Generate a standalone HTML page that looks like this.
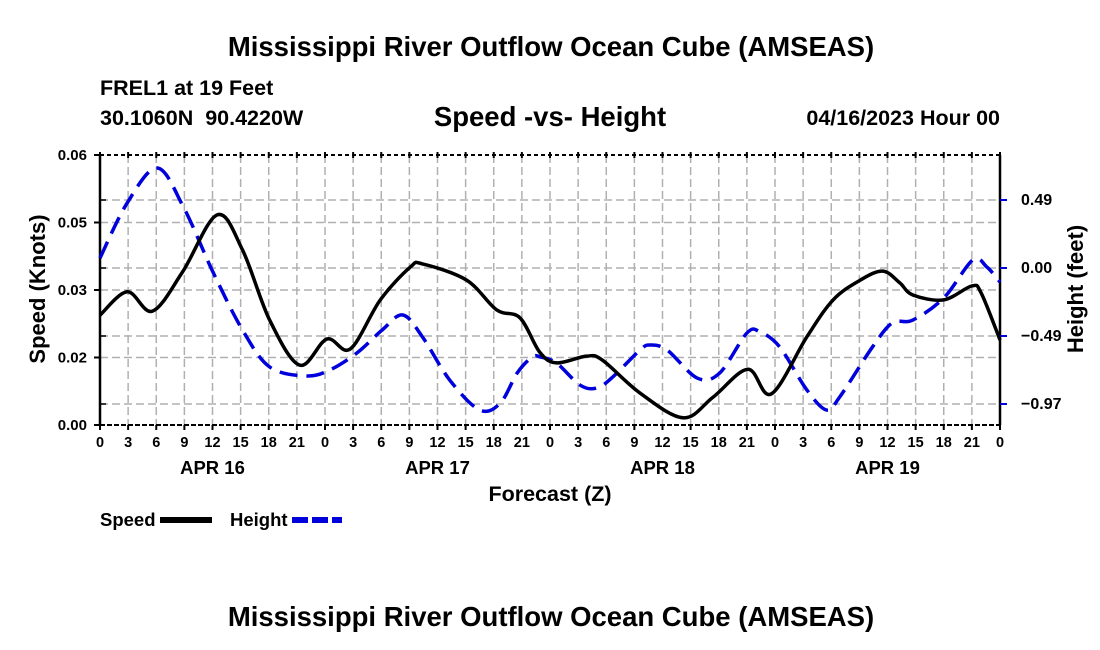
<!DOCTYPE html>
<html><head><meta charset="utf-8"><style>
body{margin:0;background:#fff;}
svg{display:block;font-family:"Liberation Sans",sans-serif;font-weight:bold;}
</style></head><body>
<svg id="c" width="1100" height="650" viewBox="0 0 1100 650">
<rect width="1100" height="650" fill="#fff"/>
<text x="551" y="56" text-anchor="middle" font-size="27.5">Mississippi River Outflow Ocean Cube (AMSEAS)</text>
<text x="100" y="95" font-size="21.5">FREL1 at 19 Feet</text>
<text x="100" y="125" font-size="21.5">30.1060N&#160;&#160;90.4220W</text>
<text x="550" y="126" text-anchor="middle" font-size="27.5">Speed -vs- Height</text>
<text x="1000" y="125" text-anchor="end" font-size="21.5">04/16/2023 Hour 00</text>
<g id="grid"></g>
<g id="axes"></g>
<g id="series"></g>
<text x="550" y="501" text-anchor="middle" font-size="21.5">Forecast (Z)</text>
<text transform="translate(45,289) rotate(-90)" text-anchor="middle" font-size="22">Speed (Knots)</text>
<text transform="translate(1083,289) rotate(-90)" text-anchor="middle" font-size="22">Height (feet)</text>
<g>
<text x="100" y="526" font-size="18.5">Speed</text>
<line x1="160" y1="520" x2="212" y2="520" stroke="#000" stroke-width="6"/>
<text x="230" y="526" font-size="18.5">Height</text>
<line x1="292" y1="520" x2="342" y2="520" stroke="#0000dd" stroke-width="6" stroke-dasharray="16 4"/>
</g>
<text x="551" y="626" text-anchor="middle" font-size="27.5">Mississippi River Outflow Ocean Cube (AMSEAS)</text>
</svg>
<script>
const speedHours=[0,2.9,5.6,8.8,12.5,15.2,18.1,21.3,24.2,26.7,29.9,33.1,34.4,39.1,42.3,44.8,46.9,48.7,51.9,53.6,57.6,62.2,65.4,69.1,71.6,75.4,78.2,81.1,83.5,85.3,86.7,90,93,94,96];
const speedValues=[0.0244,0.0296,0.0253,0.0340,0.0467,0.0389,0.0233,0.0133,0.0191,0.0169,0.0278,0.0351,0.0358,0.0322,0.0256,0.0238,0.0162,0.0138,0.0153,0.0144,0.0071,0.0016,0.0062,0.0124,0.0069,0.0196,0.0278,0.0322,0.0342,0.0316,0.0289,0.0278,0.0309,0.0293,0.0189];
const heightHours=[0,2.9,6.1,8.9,12.1,15.2,18.1,22,24.5,27.4,30.1,32.3,34.4,37.3,40.5,42.7,44.5,46.1,47,48.7,51.2,53,54.7,57.6,58.7,60.5,63.7,66.1,69,70.4,72.5,75.4,77.5,78.9,82.4,84.5,86.7,90,93.1,94.6,96];
const heightValues=[0.071,0.464,0.713,0.435,-0.036,-0.442,-0.706,-0.770,-0.728,-0.606,-0.442,-0.335,-0.492,-0.799,-1.013,-0.963,-0.749,-0.635,-0.635,-0.678,-0.835,-0.856,-0.777,-0.585,-0.549,-0.585,-0.785,-0.749,-0.464,-0.456,-0.563,-0.870,-1.013,-0.920,-0.563,-0.392,-0.371,-0.214,0.057,0.007,-0.100];
const leftTicks=[0,0.015,0.03,0.045,0.06];
const leftTickLabels=["0.00","0.02","0.03","0.05","0.06"];
const rightTicks=[-0.97,-0.485,0,0.485];
const rightTickLabels=["\u22120.97","\u22120.49","0.00","0.49"];
const xTickLabels=["0","3","6","9","12","15","18","21","0","3","6","9","12","15","18","21","0","3","6","9","12","15","18","21","0","3","6","9","12","15","18","21","0"];
const dayLabels=["APR 16","APR 17","APR 18","APR 19"];
const dayHours=[12,36,60,84];

const L=100,R=1000,T=155,B=425;
const X=h=>L+(h/96)*(R-L);
const YS=v=>B-(v/0.06)*(B-T);
const YH=v=>268-v*(68/0.485);
const NS="http://www.w3.org/2000/svg";
function mk(tag,attrs,parent){const e=document.createElementNS(NS,tag);for(const k in attrs)e.setAttribute(k,attrs[k]);parent.appendChild(e);return e;}
const grid=document.getElementById('grid'),axes=document.getElementById('axes'),series=document.getElementById('series');
for(let i=1;i<32;i++){const x=X(i*3);
const g=mk('line',{x1:x,y1:T,x2:x,y2:B,stroke:'#b0b0b0','stroke-width':1.5,'stroke-dasharray':'8 4'},grid);

}
leftTicks.slice(1,4).forEach(v=>{const y=YS(v);
const g=mk('line',{x1:L,y1:y,x2:R,y2:y,stroke:'#b0b0b0','stroke-width':1.5,'stroke-dasharray':'8 4'},grid);

});
rightTicks.forEach(v=>{const y=YH(v);
const g=mk('line',{x1:L,y1:y,x2:R,y2:y,stroke:'#b0b0b0','stroke-width':1.5,'stroke-dasharray':'8 4'},grid);

});
let a=mk('line',{x1:L,y1:T,x2:L,y2:B,stroke:'#000','stroke-width':2.5},axes);


a=mk('line',{x1:R,y1:T,x2:R,y2:B,stroke:'#000','stroke-width':2.5},axes);


a=mk('line',{x1:L,y1:B,x2:R,y2:B,stroke:'#000','stroke-width':2,'stroke-dasharray':'5 2'},axes);


a=mk('line',{x1:L,y1:T,x2:R,y2:T,stroke:'#000','stroke-width':2,'stroke-dasharray':'4 3'},axes);


leftTicks.forEach((v,i)=>{const y=YS(v);
mk('line',{x1:L-6,y1:y,x2:L,y2:y,stroke:'#000','stroke-width':2},axes);
const t=mk('text',{x:L-13,y:y+5,'text-anchor':'end','font-size':15},axes);t.textContent=leftTickLabels[i];

});
rightTicks.forEach((v,i)=>{const y=YH(v);
mk('line',{x1:R,y1:y,x2:R+7,y2:y,stroke:'#0000dd','stroke-width':2},axes);
mk('line',{x1:L,y1:y,x2:L+6,y2:y,stroke:'#000','stroke-width':1.5},axes);
const t=mk('text',{x:R+21,y:y+5,'font-size':16},axes);t.textContent=rightTickLabels[i];

});
xTickLabels.forEach((s,i)=>{const x=X(i*3);
mk('line',{x1:x,y1:B,x2:x,y2:B+5,stroke:'#000','stroke-width':2},axes);
mk('line',{x1:x,y1:T-3,x2:x,y2:T+3,stroke:'#000','stroke-width':2},axes);
const t=mk('text',{x:x,y:B+22,'text-anchor':'middle','font-size':14.5},axes);t.textContent=s;

});
dayLabels.forEach((s,i)=>{const t=mk('text',{x:X(dayHours[i]),y:B+49,'text-anchor':'middle','font-size':18.5},axes);t.textContent=s;

});
function path(pts){let d='M'+pts[0][0]+','+pts[0][1];
for(let i=0;i<pts.length-1;i++){const p0=pts[Math.max(0,i-1)],p1=pts[i],p2=pts[i+1],p3=pts[Math.min(pts.length-1,i+2)];
const c1=[p1[0]+(p2[0]-p0[0])/6,p1[1]+(p2[1]-p0[1])/6],c2=[p2[0]-(p3[0]-p1[0])/6,p2[1]-(p3[1]-p1[1])/6];
d+=' C'+c1[0]+','+c1[1]+' '+c2[0]+','+c2[1]+' '+p2[0]+','+p2[1];}return d;}
const hp=mk('path',{d:path(heightHours.map((h,i)=>[X(h),YH(heightValues[i])])),fill:'none',stroke:'#0000dd','stroke-width':3.5,'stroke-dasharray':'18 9'},series);


const sp=mk('path',{d:path(speedHours.map((h,i)=>[X(h),YS(speedValues[i])])),fill:'none',stroke:'#000','stroke-width':3.5},series);


</script>
</body></html>
